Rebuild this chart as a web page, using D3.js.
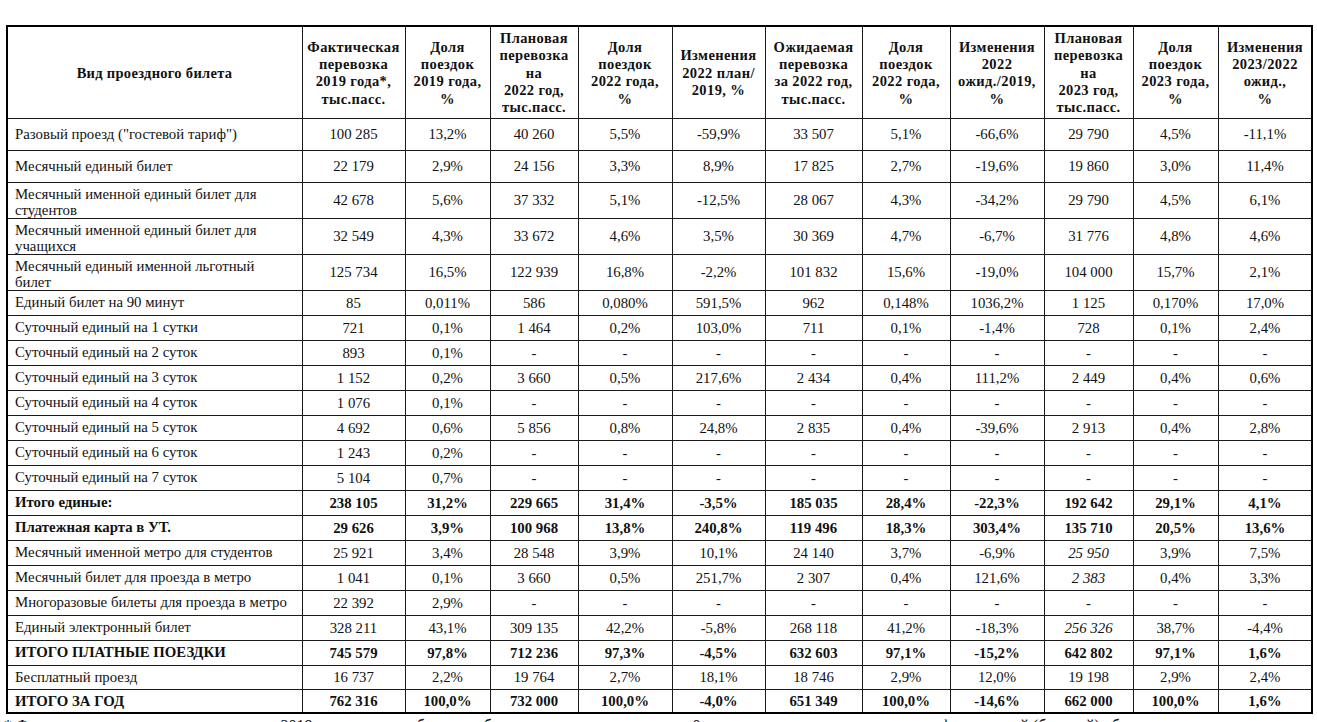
<!DOCTYPE html>
<html><head><meta charset="utf-8">
<script src="https://cdn.jsdelivr.net/npm/d3@7"></script>
<style>
body{margin:0;background:#fff;overflow:hidden}
svg{display:block}
text{font-family:"Liberation Serif","Times New Roman",serif;fill:#111}
</style>
</head><body><svg id="c" width="1317" height="722"></svg>
<script>
// ---------------- DATA ----------------
const categories = [
  'Разовый проезд ("гостевой тариф")',
  'Месячный единый билет',
  'Месячный именной единый билет для студентов',
  'Месячный именной единый билет для учащихся',
  'Месячный единый именной льготный билет',
  'Единый билет на 90 минут',
  'Суточный единый на 1 сутки',
  'Суточный единый на 2 суток',
  'Суточный единый на 3 суток',
  'Суточный единый на 4 суток',
  'Суточный единый на 5 суток',
  'Суточный единый на 6 суток',
  'Суточный единый на 7 суток',
  'Итого единые:',
  'Платежная карта в УТ.',
  'Месячный именной метро для студентов',
  'Месячный билет для проезда в метро',
  'Многоразовые билеты для проезда в метро',
  'Единый электронный билет',
  'ИТОГО ПЛАТНЫЕ ПОЕЗДКИ',
  'Бесплатный проезд',
  'ИТОГО ЗА ГОД'
];
const fact2019      = [100285, 22179, 42678, 32549, 125734, 85, 721, 893, 1152, 1076, 4692, 1243, 5104, 238105, 29626, 25921, 1041, 22392, 328211, 745579, 16737, 762316];
const share2019     = [13.2, 2.9, 5.6, 4.3, 16.5, 0.011, 0.1, 0.1, 0.2, 0.1, 0.6, 0.2, 0.7, 31.2, 3.9, 3.4, 0.1, 2.9, 43.1, 97.8, 2.2, 100.0];
const plan2022      = [40260, 24156, 37332, 33672, 122939, 586, 1464, null, 3660, null, 5856, null, null, 229665, 100968, 28548, 3660, null, 309135, 712236, 19764, 732000];
const sharePlan2022 = [5.5, 3.3, 5.1, 4.6, 16.8, 0.080, 0.2, null, 0.5, null, 0.8, null, null, 31.4, 13.8, 3.9, 0.5, null, 42.2, 97.3, 2.7, 100.0];
const changePlan2022= [-59.9, 8.9, -12.5, 3.5, -2.2, 591.5, 103.0, null, 217.6, null, 24.8, null, null, -3.5, 240.8, 10.1, 251.7, null, -5.8, -4.5, 18.1, -4.0];
const expected2022  = [33507, 17825, 28067, 30369, 101832, 962, 711, null, 2434, null, 2835, null, null, 185035, 119496, 24140, 2307, null, 268118, 632603, 18746, 651349];
const shareExp2022  = [5.1, 2.7, 4.3, 4.7, 15.6, 0.148, 0.1, null, 0.4, null, 0.4, null, null, 28.4, 18.3, 3.7, 0.4, null, 41.2, 97.1, 2.9, 100.0];
const changeExp2022 = [-66.6, -19.6, -34.2, -6.7, -19.0, 1036.2, -1.4, null, 111.2, null, -39.6, null, null, -22.3, 303.4, -6.9, 121.6, null, -18.3, -15.2, 12.0, -14.6];
const plan2023      = [29790, 19860, 29790, 31776, 104000, 1125, 728, null, 2449, null, 2913, null, null, 192642, 135710, 25950, 2383, null, 256326, 642802, 19198, 662000];
const share2023     = [4.5, 3.0, 4.5, 4.8, 15.7, 0.170, 0.1, null, 0.4, null, 0.4, null, null, 29.1, 20.5, 3.9, 0.4, null, 38.7, 97.1, 2.9, 100.0];
const change2023    = [-11.1, 11.4, 6.1, 4.6, 2.1, 17.0, 2.4, null, 0.6, null, 2.8, null, null, 4.1, 13.6, 7.5, 3.3, null, -4.4, 1.6, 2.4, 1.6];

const headerLines = [
  ['Вид проездного билета'],
  ['Фактическая','перевозка','2019 года*,','тыс.пасс.'],
  ['Доля','поездок','2019 года,','%'],
  ['Плановая','перевозка','на','2022 год,','тыс.пасс.'],
  ['Доля','поездок','2022 года,','%'],
  ['Изменения','2022 план/','2019, %'],
  ['Ожидаемая','перевозка','за 2022 год,','тыс.пасс.'],
  ['Доля','поездок','2022 года,','%'],
  ['Изменения','2022','ожид./2019,','%'],
  ['Плановая','перевозка','на','2023 год,','тыс.пасс.'],
  ['Доля','поездок','2023 года,','%'],
  ['Изменения','2023/2022','ожид.,','%']
];
const footnote = '* Фактическая перевозка пассажиров за 2019 год приведена без учета бесплатных поездок, с учетом 0 поездок по транспортным картам, фактический (базовый) объем перевозок';

// ---------------- STYLE / LAYOUT ----------------
const boldRows = [13, 14, 19, 21];
const italicPlan2023Rows = [15, 16, 18];
const precise3 = [5];              // shares shown with 3 decimals
const firstLineWords = {2: 5, 3: 5, 4: 4};
const colEdges = [7, 302, 405, 490, 578, 672, 765, 862, 950, 1044, 1133, 1218, 1312];
const tableTop = 26, headerBottom = 118;
const rowHeights = [32, 32, 36, 36, 36, 25,25,25,25,25,25,25,25,25,25,25,25,25,25, 25, 24, 24];

const columns = [
  {v: fact2019, t: 'int'}, {v: share2019, t: 'share'}, {v: plan2022, t: 'int'}, {v: sharePlan2022, t: 'share'},
  {v: changePlan2022, t: 'chg'}, {v: expected2022, t: 'int'}, {v: shareExp2022, t: 'share'}, {v: changeExp2022, t: 'chg'},
  {v: plan2023, t: 'int', italic: italicPlan2023Rows}, {v: share2023, t: 'share'}, {v: change2023, t: 'chg'}
];

const loc = d3.formatLocale({decimal: ',', thousands: '\u00a0', grouping: [3], currency: ['', ''], minus: '-'});
const fInt = loc.format(',d'), f1 = loc.format('.1f'), f3 = loc.format('.3f');
function fmt(val, type, row) {
  if (val == null) return '-';
  if (type === 'int') return fInt(val);
  if (type === 'share' && precise3.includes(row)) return f3(val) + '%';
  return f1(val) + '%';
}

// scales
const colIdx = d3.range(colEdges.length - 1);
const xLeft = d3.scaleOrdinal().domain(colIdx).range(colEdges.slice(0, -1));
const xRight = d3.scaleOrdinal().domain(colIdx).range(colEdges.slice(1));
const xMid = c => (xLeft(c) + xRight(c)) / 2;
const rowTops = [headerBottom, ...d3.cumsum(rowHeights).map(h => headerBottom + h)];
const yTop = d3.scaleOrdinal().domain(d3.range(categories.length + 1)).range(rowTops);
const yMid = r => (yTop(r) + yTop(r + 1)) / 2;

const svg = d3.select('#c');

// lines
const gl = svg.append('g').attr('stroke', '#1a1a1a').attr('shape-rendering', 'crispEdges');
gl.selectAll('line.h').data(d3.range(1, categories.length + 1).concat([0])).join('line')
  .attr('x1', colEdges[0]).attr('x2', colEdges[colEdges.length - 1])
  .attr('y1', d => d === 0 ? headerBottom : yTop(d)).attr('y2', d => d === 0 ? headerBottom : yTop(d))
  .attr('stroke-width', 1);
gl.selectAll('line.v').data(d3.range(1, colEdges.length - 1)).join('line')
  .attr('x1', d => colEdges[d]).attr('x2', d => colEdges[d])
  .attr('y1', tableTop).attr('y2', yTop(categories.length))
  .attr('stroke-width', 1);
gl.append('rect').attr('x', colEdges[0]).attr('y', tableTop)
  .attr('width', colEdges[colEdges.length - 1] - colEdges[0]).attr('height', yTop(categories.length) - tableTop)
  .attr('fill', 'none').attr('stroke', '#000').attr('stroke-width', 2);

// header
const hLine = 17.3, hMid = (tableTop + headerBottom) / 2 + 0.5;
const gh = svg.append('g').attr('font-weight', 'bold').attr('font-size', 14.5).attr('text-anchor', 'middle');
headerLines.forEach((lines, c) => {
  const t = gh.append('text').attr('x', xMid(c)).attr('letter-spacing', c === 0 ? 0.3 : 0.4);
  lines.forEach((ln, i) => {
    t.append('tspan').attr('x', xMid(c))
      .attr('y', hMid + (i - (lines.length - 1) / 2) * hLine).attr('dy', '0.35em').text(ln);
  });
});

// names
const gn = svg.append('g').attr('font-size', 14.8);
categories.forEach((name, r) => {
  const t = gn.append('text').attr('x', 15).attr('font-weight', boldRows.includes(r) ? 'bold' : null);
  const words = name.split(' ');
  const lines = firstLineWords[r] ? [words.slice(0, firstLineWords[r]).join(' '), words.slice(firstLineWords[r]).join(' ')] : [name];
  lines.forEach((ln, i) => {
    t.append('tspan').attr('x', 15)
      .attr('y', yMid(r) + (i - (lines.length - 1) / 2) * 16 + (lines.length > 1 ? 1.5 : -0.5)).attr('dy', '0.35em').text(ln);
  });
});

// values
const gv = svg.append('g').attr('font-size', 14.8).attr('text-anchor', 'middle');
columns.forEach((col, ci) => {
  const c = ci + 1;
  gv.selectAll(null).data(col.v).join('text')
    .attr('x', xMid(c)).attr('y', (d, r) => yMid(r)).attr('dy', '0.35em')
    .attr('font-weight', (d, r) => boldRows.includes(r) ? 'bold' : null)
    .attr('font-style', (d, r) => col.italic && col.italic.includes(r) ? 'italic' : null)
    .text((d, r) => fmt(d, col.t, r));
});

// footnote (cut at the bottom of the picture, as in the reference)
svg.append('text').attr('x', 4).attr('y', 731).attr('font-size', 16).text(footnote);
</script>
</body></html>
